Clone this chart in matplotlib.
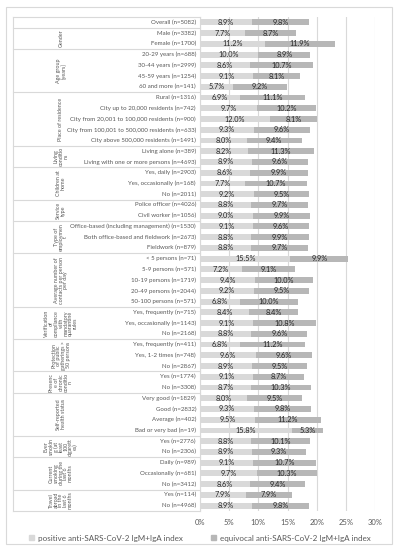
import matplotlib
matplotlib.use('Agg')
import matplotlib.pyplot as plt
from matplotlib.patches import Patch, Rectangle
import numpy as np

plt.rcParams['font.family'] = ['Lato', 'DejaVu Sans']

# groups: (label, number of rows)
groups = [
    ('', 1),
    ('Gender', 2),
    ('Age group\n[years]', 4),
    ('Place of residence', 5),
    ('Living\nconditio\nns', 2),
    ('Children at\nhome', 3),
    ('Service\ntype', 2),
    ('Type of\nemploymen\nt', 3),
    ('Average number of\ncontacts per person\nper day', 5),
    ('Verification\nof\ncompliance\nwith\nmandatory\nquarantine\nrules', 3),
    ('Protection\nof public\ngatherings >\n50 persons', 3),
    ('Presenc\ne of\nchronic\nconditio\nn', 2),
    ('Self-reported\nhealth status', 4),
    ('Ever\nsmokin\ng (at\nleast\n100\ncigarett\nes)', 2),
    ('Current\nsmoking\nduring the\nlast 6\nmonths', 3),
    ('Travel\nabroad\nin the\nlast 6\nmonths', 2),
]

categories = [
    'Overall (n=5082)',
    'Male (n=3382)', 'Female (n=1700)',
    '20-29 years (n=688)', '30-44 years (n=2999)', '45-59 years (n=1254)', '60 and more (n=141)',
    'Rural (n=1316)', 'City up to 20,000 residents (n=742)',
    'City from 20,001 to 100,000 residents (n=900)',
    'City from 100,001 to 500,000 residents (n=633)', 'City above 500,000 residents (n=1491)',
    'Living alone (n=389)', 'Living with one or more persons (n=4693)',
    'Yes, daily (n=2903)', 'Yes, occasionally (n=168)', 'No (n=2011)',
    'Police officer (n=4026)', 'Civil worker (n=1056)',
    'Office-based (including management) (n=1530)', 'Both office-based and fieldwork (n=2673)',
    'Fieldwork (n=879)',
    '< 5 persons (n=71)', '5-9 persons (n=571)', '10-19 persons (n=1719)',
    '20-49 persons (n=2044)', '50-100 persons (n=571)',
    'Yes, frequently (n=715)', 'Yes, occasionally (n=1143)', 'No (n=2168)',
    'Yes, frequently (n=411)', 'Yes, 1-2 times (n=748)', 'No (n=2867)',
    'Yes (n=1774)', 'No (n=3308)',
    'Very good (n=1829)', 'Good (n=2832)', 'Average (n=402)', 'Bad or very bad (n=19)',
    'Yes (n=2776)', 'No (n=2306)',
    'Daily (n=989)', 'Occasionally (n=681)', 'No (n=3412)',
    'Yes (n=114)', 'No (n=4968)',
]

positive = [8.9,
            7.7, 11.2,
            10.0, 8.6, 9.1, 5.7,
            6.9, 9.7, 12.0, 9.3, 8.0,
            8.2, 8.9,
            8.6, 7.7, 9.2,
            8.8, 9.0,
            9.1, 8.8, 8.8,
            15.5, 7.2, 9.4, 9.2, 6.8,
            8.4, 9.1, 8.8,
            6.8, 9.6, 8.9,
            9.1, 8.7,
            8.0, 9.3, 9.5, 15.8,
            8.8, 8.9,
            9.1, 9.7, 8.6,
            7.9, 8.9]

equivocal = [9.8,
             8.7, 11.9,
             8.9, 10.7, 8.1, 9.2,
             11.1, 10.2, 8.1, 9.6, 9.4,
             11.3, 9.6,
             9.9, 10.7, 9.5,
             9.7, 9.9,
             9.6, 9.9, 9.7,
             9.9, 9.1, 10.0, 9.5, 10.0,
             8.4, 10.8, 9.6,
             11.2, 9.6, 9.5,
             8.7, 10.3,
             9.5, 9.8, 11.2, 5.3,
             10.1, 9.3,
             10.7, 10.3, 9.4,
             7.9, 9.8]

ticks = [0, 5, 10, 15, 20, 25, 30]

c_pos = '#d9d9d9'
c_equ = '#b7b7b7'
c_txt = '#595959'

W, H = 397, 550
fig = plt.figure(figsize=(W / 100, H / 100), dpi=100)
x0, x1 = 200, 375
ytop, ybot = 17, 511
ax = fig.add_axes([x0 / W, 1 - ybot / H, (x1 - x0) / W, (ybot - ytop) / H])

n = len(categories)
y = np.arange(n)
pos = np.array(positive)
equ = np.array(equivocal)

ax.barh(y, pos, height=0.55, color=c_pos, zorder=2)
ax.barh(y, equ, left=pos, height=0.55, color=c_equ, zorder=2)

for i in range(n):
    ax.text(pos[i] / 2, y[i], f'{pos[i]:.1f}%', ha='center', va='center',
            fontsize=5.3, color='#262626', zorder=3)
    ax.text(pos[i] + equ[i] / 2, y[i], f'{equ[i]:.1f}%', ha='center', va='center',
            fontsize=5.3, color='#262626', zorder=3)

ax.set_ylim(n - 0.5, -0.5)
ax.set_xlim(0, 30)
ax.set_xticks(ticks)
ax.set_xticklabels([f'{t}%' for t in ticks], fontsize=5.5, color=c_txt)
ax.tick_params(axis='x', length=0, pad=6)
ax.set_yticks([])
for s in ax.spines.values():
    s.set_visible(False)
ax.grid(axis='x', color='#d9d9d9', linewidth=0.8, zorder=0)
ax.set_axisbelow(True)

# category labels and group table
tr = matplotlib.transforms.blended_transform_factory(fig.transFigure, ax.transData)
for i, c in enumerate(categories):
    ax.text(196 / W, y[i], c, transform=tr, ha='right', va='center',
            fontsize=4.4, color=c_txt, clip_on=False)

line_kw = dict(color='#d9d9d9', linewidth=0.8, transform=tr, clip_on=False)
left = 13 / W
start = 0
ax.plot([left, x0 / W], [-0.5, -0.5], **line_kw)
for name, cnt in groups:
    end = start + cnt
    ax.plot([left, x0 / W], [end - 0.5, end - 0.5], **line_kw)
    if name:
        ax.text(61 / W, (start + end - 1) / 2, name, transform=tr, rotation=90,
                ha='center', va='center', fontsize=3.9, color=c_txt,
                linespacing=0.95, clip_on=False)
    start = end
ax.plot([left, left], [-0.5, n - 0.5], **line_kw)
ax.plot([x0 / W, x0 / W], [-0.5, n - 0.5], **line_kw)

handles = [Patch(color=c_pos, label='positive anti-SARS-CoV-2 IgM+IgA index'),
           Patch(color=c_equ, label='equivocal anti-SARS-CoV-2 IgM+IgA index')]
leg = fig.legend(handles=handles, loc='center', bbox_to_anchor=(200 / W, 1 - 538 / H),
                 ncol=2, frameon=False, fontsize=5.8, handlelength=0.6, handleheight=0.6,
                 columnspacing=3.5, handletextpad=0.5)
for t in leg.get_texts():
    t.set_color(c_txt)

fig.patches.append(Rectangle((6 / W, 1 - 544 / H), 386 / W, 537 / H, transform=fig.transFigure,
                             fill=False, edgecolor='#d9d9d9', linewidth=0.8))

fig.savefig('out.png', dpi=100, facecolor='white')
